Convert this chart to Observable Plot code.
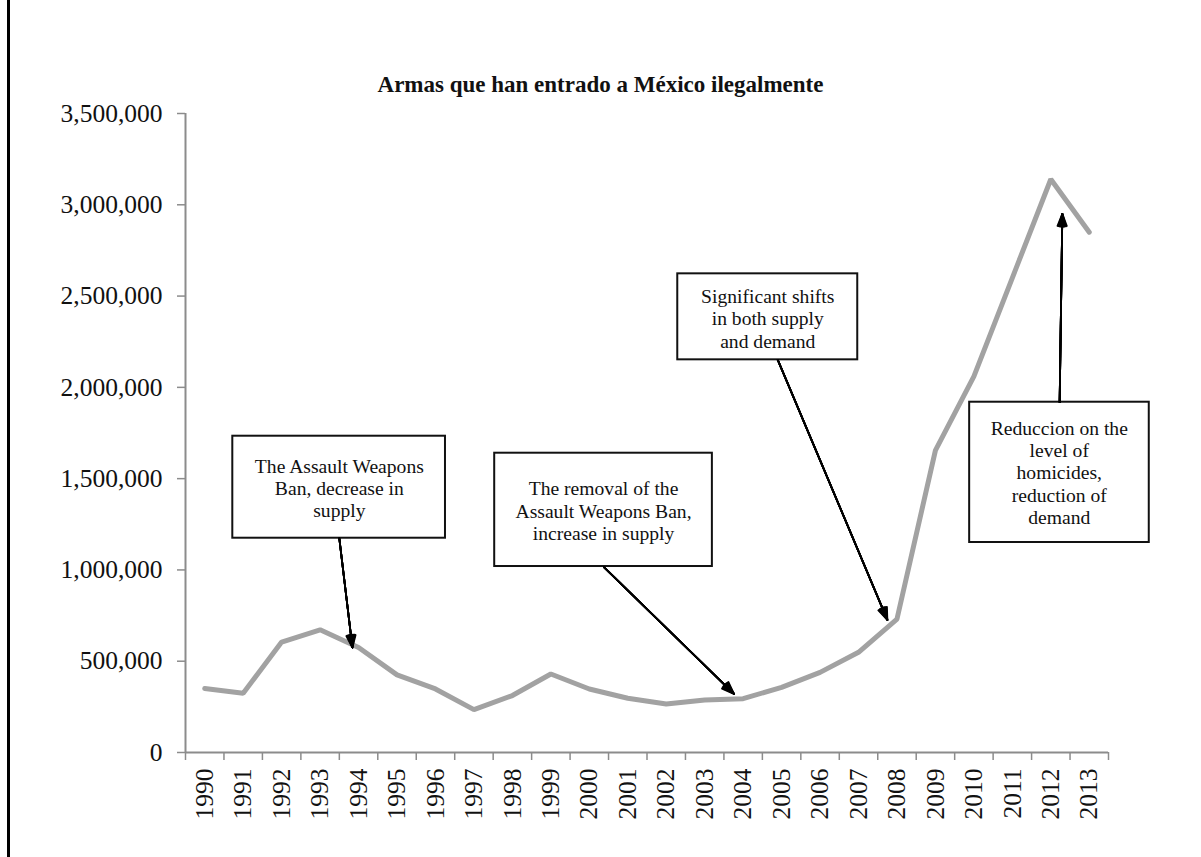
<!DOCTYPE html>
<html><head><meta charset="utf-8">
<script src="https://cdn.jsdelivr.net/npm/d3@7"></script>
<script src="https://cdn.jsdelivr.net/npm/@observablehq/plot@0.6"></script>
<style>
body{margin:0;background:#fff;}
#wrap{position:relative;width:1201px;height:857px;overflow:hidden;font-family:"Liberation Serif","Times New Roman",serif;background:#fff;}
#border{position:absolute;left:7px;top:0;width:3px;height:857px;background:#000;}
#title{height:30px;padding-top:70px;text-align:center;font-weight:bold;font-size:23px;line-height:30px;color:#111;}
#chart svg{display:block;}
</style></head>
<body><div id="wrap"><div id="border"></div><div id="title">Armas que han entrado a México ilegalmente</div><div id="chart"></div></div>
<script>
// Data
const years = [1990,1991,1992,1993,1994,1995,1996,1997,1998,1999,2000,2001,2002,2003,2004,2005,2006,2007,2008,2009,2010,2011,2012,2013];
const weapons = [350000,325000,605000,672000,575000,425000,348000,235000,312000,430000,348000,297000,266000,288000,295000,357000,439000,549000,731000,1655000,2060000,2600000,3140000,2850000];
const yTicks = [0,500000,1000000,1500000,2000000,2500000,3000000,3500000];
const yearBounds = [1989.5,1990.5,1991.5,1992.5,1993.5,1994.5,1995.5,1996.5,1997.5,1998.5,1999.5,2000.5,2001.5,2002.5,2003.5,2004.5,2005.5,2006.5,2007.5,2008.5,2009.5,2010.5,2011.5,2012.5,2013.5];

// Annotations (in data coordinates)
const noteText = [
  "The Assault Weapons\nBan, decrease in\nsupply",
  "The removal of the\nAssault Weapons Ban,\nincrease in supply",
  "Significant shifts\nin both supply\nand demand",
  "Reduccion on the\nlevel of\nhomicides,\nreduction of\ndemand"
];
const noteX1 = [1990.73, 1997.54, 2002.30, 2009.89];
const noteX2 = [1996.26, 2003.20, 2006.98, 2014.56];
const noteY1 = [1173700, 1018700, 2150800, 1150200];
const noteY2 = [1732400, 1639300, 2621800, 1918600];
const noteCX = [1993.50, 2000.37, 2004.64, 2012.22];
const noteCY = [1449800, 1325400, 2379800, 1535200];
const arrowX1 = [1993.50, 2000.38, 2004.90, 2012.23];
const arrowY1 = [1172100, 1014900, 2150800, 1918600];
const arrowX2 = [1993.84, 2003.76, 2007.75, 2012.30];
const arrowY2 = [575100, 321500, 726800, 2950500];

const series = years.map((y, i) => ({year: y, value: weapons[i]}));
const notes = noteText.map((t, i) => ({text: t, x1: noteX1[i], x2: noteX2[i], y1: noteY1[i], y2: noteY2[i], cx: noteCX[i], cy: noteCY[i]}));
const arrows = arrowX1.map((x, i) => ({x1: x, y1: arrowY1[i], x2: arrowX2[i], y2: arrowY2[i]}));

const axisGray = "#8c8c8c";
const font = "'Liberation Serif','Times New Roman',serif";
const headAngles = [42, 34, 26, 18, 10, 3];

const plot = Plot.plot({
  width: 1201,
  height: 757,
  marginTop: 13,
  marginBottom: 105,
  marginLeft: 185,
  marginRight: 93,
  style: {fontFamily: font, color: "#111", background: "transparent", overflow: "visible"},
  x: {type: "linear", domain: [1989.5, 2013.5]},
  y: {domain: [0, 3500000]},
  marks: [
    Plot.line(series, {x: "year", y: "value", stroke: "#a2a2a2", strokeWidth: 5, strokeLinejoin: "miter"}),
    Plot.ruleX([1989.5], {stroke: axisGray, strokeWidth: 2}),
    Plot.ruleY([0], {stroke: axisGray, strokeWidth: 2}),
    Plot.axisY({ticks: yTicks, tickFormat: d3.format(","), tickSize: 8, tickPadding: 15, fontSize: 25.5, stroke: axisGray, strokeWidth: 1.5, label: null}),
    Plot.axisX({ticks: yearBounds, tickFormat: () => "", tickSize: 8, stroke: axisGray, strokeWidth: 1.5, label: null}),
    Plot.axisX({ticks: years, tickFormat: d => String(d), tickSize: 0, tickPadding: 16, tickRotate: -90, fontSize: 25.5, label: null}),
    Plot.rect(notes, {x1: "x1", x2: "x2", y1: "y1", y2: "y2", fill: "white", stroke: "#111", strokeWidth: 2}),
    ...headAngles.map(a => Plot.arrow(arrows, {x1: "x1", y1: "y1", x2: "x2", y2: "y2", stroke: "#000", strokeWidth: 1.8, headLength: 10.8, headAngle: a})),
    Plot.text(notes, {x: "cx", y: "cy", text: "text", fontSize: 19.6, lineHeight: 1.14, fill: "#111", textAnchor: "middle"})
  ]
});
document.getElementById("chart").appendChild(plot);
</script>
</body></html>
